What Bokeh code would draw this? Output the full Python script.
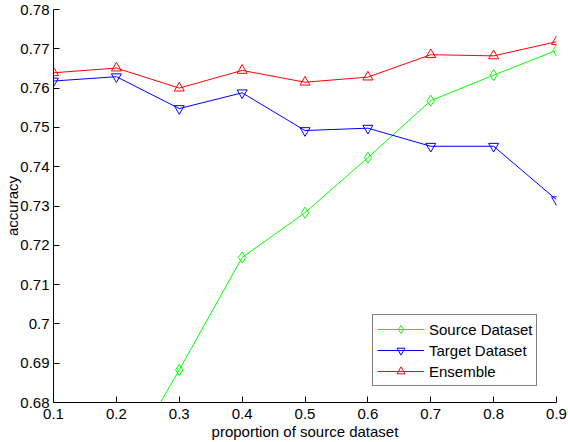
from bokeh.plotting import figure
from bokeh.models import Range1d, FixedTicker, Legend, LegendItem
from bokeh.embed import file_html
from bokeh.resources import INLINE

proportion = [0.1, 0.2, 0.3, 0.4, 0.5, 0.6, 0.7, 0.8, 0.9]
source_acc = [0.640, 0.6606, 0.6883, 0.7169, 0.7283, 0.7423, 0.7568, 0.7633, 0.7696]
target_acc = [0.7618, 0.7629, 0.7548, 0.7588, 0.7492, 0.7498, 0.7452, 0.7452, 0.7316]
ensemble_acc = [0.7639, 0.7651, 0.7600, 0.7645, 0.7615, 0.7628, 0.7685, 0.7682, 0.7718]

x_ticks = [0.1, 0.2, 0.3, 0.4, 0.5, 0.6, 0.7, 0.8, 0.9]
x_tick_labels = ["0.1", "0.2", "0.3", "0.4", "0.5", "0.6", "0.7", "0.8", "0.9"]
y_ticks = [0.68, 0.69, 0.70, 0.71, 0.72, 0.73, 0.74, 0.75, 0.76, 0.77, 0.78]
y_tick_labels = ["0.68", "0.69", "0.7", "0.71", "0.72", "0.73", "0.74", "0.75", "0.76", "0.77", "0.78"]

FONT = "Liberation Sans"
FS = "15px"

p = figure(width=568, height=442, output_backend="svg", toolbar_location=None,
           x_range=Range1d(0.1, 0.9), y_range=Range1d(0.68, 0.78),
           min_border_left=53, min_border_right=12, min_border_top=9, min_border_bottom=40)
p.outline_line_color = None
p.xgrid.visible = False
p.ygrid.visible = False
p.background_fill_color = "white"
p.border_fill_color = "white"

p.xaxis.axis_label = "proportion of source dataset"
p.yaxis.axis_label = "accuracy"

for ax, ticks, labels, standoff, lab_standoff in ((p.xaxis[0], x_ticks, x_tick_labels, 6, 1),
                                                  (p.yaxis[0], y_ticks, y_tick_labels, 4, -4)):
    ax.ticker = FixedTicker(ticks=ticks)
    ax.major_label_overrides = {t: l for t, l in zip(ticks, labels)}
    ax.major_tick_in = 6
    ax.major_tick_out = 0
    ax.minor_tick_line_color = None
    ax.axis_line_color = "black"
    ax.major_tick_line_color = "black"
    ax.major_label_text_font = FONT
    ax.major_label_text_font_size = FS
    ax.major_label_text_color = "black"
    ax.major_label_standoff = standoff
    ax.axis_label_text_font = FONT
    ax.axis_label_text_font_size = FS
    ax.axis_label_text_font_style = "normal"
    ax.axis_label_text_color = "black"
    ax.axis_label_standoff = lab_standoff

series = [("Source Dataset", source_acc, "#00ff00", "diamond", 11),
          ("Target Dataset", target_acc, "#0000ff", "inverted_triangle", 10),
          ("Ensemble", ensemble_acc, "#ff0000", "triangle", 10)]
items = []
for name, ys, color, marker, size in series:
    r1 = p.line(proportion, ys, line_color=color, line_width=1)
    r2 = p.scatter(proportion, ys, marker=marker, size=size, line_color=color,
                   fill_color=None, line_width=1)
    items.append(LegendItem(label=name, renderers=[r1, r2]))

legend = Legend(items=items, location=(319, 16), orientation="vertical",
                label_text_font=FONT, label_text_font_size=FS, label_text_color="black",
                glyph_width=47, glyph_height=20, label_height=20, spacing=1,
                padding=4, label_standoff=5, margin=0,
                border_line_color="black", border_line_width=1,
                background_fill_color="white", background_fill_alpha=1.0)
p.add_layout(legend, "center")

open("out.html", "w").write(file_html(p, INLINE))
